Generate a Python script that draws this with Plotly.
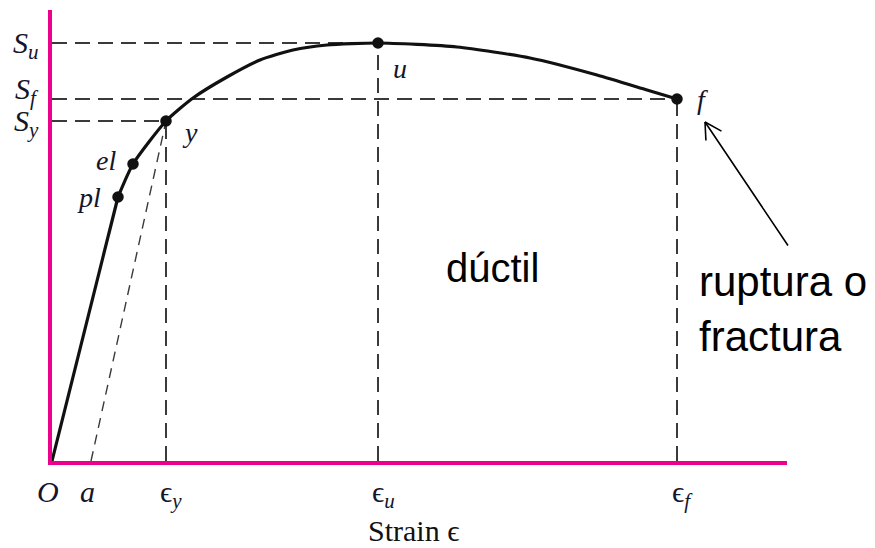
import plotly.graph_objects as go

# Engineering stress-strain diagram of a ductile material (arbitrary units)
curve_strain = [6.6, 8.1, 11.4, 14.1, 17.5, 20.8, 24.1, 27.5, 32.6, 40.5, 47.8, 54.5, 59.5, 62.5]
curve_stress = [26.4, 29.7, 34.0, 36.3, 38.4, 40.1, 41.1, 41.6, 41.8, 41.4, 40.3, 38.6, 37.1, 36.2]

# Elastic segment from the origin up to the proportional limit
elastic_strain = [0.0, 6.6]
elastic_stress = [0.0, 26.4]

# Characteristic points: proportional limit, elastic limit, yield, ultimate, fracture
point_names = ["pl", "el", "y", "u", "f"]
point_strain = [6.6, 8.1, 11.4, 32.6, 62.5]
point_stress = [26.4, 29.7, 34.0, 41.8, 36.2]

# Offset point on the strain axis for the yield construction line
offset_strain = 3.9

# Axis labels
stress_ticks = ["<i>S<sub>u</sub></i>", "<i>S<sub>f</sub></i>", "<i>S<sub>y</sub></i>"]
strain_ticks = ["<i>O</i>", "<i>a</i>", "ϵ<sub><i>y</i></sub>", "ϵ<sub><i>u</i></sub>", "ϵ<sub><i>f</i></sub>"]

X_MAX, Y_MAX = 73.5, 45.1
AXIS_COLOR = "#EC008C"
DASH_COLOR = "#3a3a3a"
LABEL_COLOR = "#15152a"
SERIF = "Liberation Serif, Times New Roman, serif"
SANS = "Liberation Sans, Arial, sans-serif"

pt = dict(zip(point_names, zip(point_strain, point_stress)))

fig = go.Figure()

# Dashed guide lines from the y, u and f points to both axes
guide = dict(color=DASH_COLOR, width=2, dash="15px,8px")
for name in ["y", "u", "f"]:
    sx, sy = pt[name]
    fig.add_trace(go.Scatter(x=[0, sx], y=[sy, sy], mode="lines", line=guide,
                             hoverinfo="skip", showlegend=False))
    fig.add_trace(go.Scatter(x=[sx, sx], y=[0, sy], mode="lines", line=guide,
                             hoverinfo="skip", showlegend=False))

# Offset line parallel to the elastic slope
fig.add_trace(go.Scatter(x=[offset_strain, pt["y"][0]], y=[0, pt["y"][1]], mode="lines",
                         line=dict(color=DASH_COLOR, width=1.4, dash="10px,7px"),
                         hoverinfo="skip", showlegend=False))

# Stress-strain curve
fig.add_trace(go.Scatter(x=elastic_strain, y=elastic_stress, mode="lines",
                         line=dict(color="#111111", width=3.2), showlegend=False))
fig.add_trace(go.Scatter(x=curve_strain, y=curve_stress, mode="lines",
                         line=dict(color="#111111", width=3.2, shape="spline", smoothing=0.6),
                         showlegend=False))
fig.add_trace(go.Scatter(x=point_strain, y=point_stress, mode="markers",
                         marker=dict(color="#111111", size=11.5), showlegend=False))

annotations = []

# Stress labels on the vertical axis
for label, name, shift in zip(stress_ticks, ["u", "f", "y"], [-2, 8, -2]):
    annotations.append(dict(x=0, y=pt[name][1], xref="x", yref="y", text=label, showarrow=False,
                            xanchor="right", yanchor="middle", xshift=-11, yshift=shift,
                            font=dict(family=SERIF, size=30, color=LABEL_COLOR)))

# Strain labels under the horizontal axis
strain_pos = [0.0, offset_strain, pt["y"][0], pt["u"][0], pt["f"][0]]
strain_shift = [-4, -4, 5, 5, 5]
for label, sx, xs in zip(strain_ticks, strain_pos, strain_shift):
    annotations.append(dict(x=sx, y=0, xref="x", yref="y", text=label, showarrow=False,
                            xanchor="center", yanchor="top", xshift=xs, yshift=-12,
                            font=dict(family=SERIF, size=30, color=LABEL_COLOR)))

# Point labels
label_offsets = {"pl": ("right", -15, 0), "el": ("right", -15, 4),
                 "y": ("left", 14, -11), "u": ("left", 13, -25), "f": ("left", 18, 0)}
for name in point_names:
    anchor, dx, dy = label_offsets[name]
    annotations.append(dict(x=pt[name][0], y=pt[name][1], xref="x", yref="y",
                            text=f"<i>{name}</i>", showarrow=False,
                            xanchor=anchor, yanchor="middle", xshift=dx, yshift=dy,
                            font=dict(family=SERIF, size=28, color=LABEL_COLOR)))

# Axis title
annotations.append(dict(x=0.492, y=0, xref="paper", yref="paper", text="Strain ϵ",
                        showarrow=False, xanchor="center", yanchor="top", yshift=-51,
                        font=dict(family=SERIF, size=30, color="#111111")))

# Region and fracture notes
annotations.append(dict(x=44.0, y=19.3, xref="x", yref="y", text="dúctil", showarrow=False,
                        xanchor="center", yanchor="middle",
                        font=dict(family=SANS, size=40, color="#000000")))
annotations.append(dict(x=64.5, y=15.2, xref="x", yref="y", text="ruptura o<br>fractura",
                        showarrow=False, xanchor="left", yanchor="middle", align="left",
                        font=dict(family=SANS, size=42, color="#000000")))

# Arrow pointing at the fracture point (shaft plus an open head)
tip_x, tip_y = 65.3, 33.9
for ax, ay in [(84, 125), (18, 10), (1, 20)]:
    annotations.append(dict(x=tip_x, y=tip_y, xref="x", yref="y", text="", showarrow=True,
                            arrowhead=0, arrowwidth=1.6, arrowcolor="#000000",
                            ax=ax, ay=ay, axref="pixel", ayref="pixel"))

fig.update_layout(
    width=875, height=548,
    margin=dict(l=52, r=88, t=10, b=87),
    paper_bgcolor="white", plot_bgcolor="white",
    xaxis=dict(range=[0, X_MAX], showgrid=False, zeroline=False, showticklabels=False,
               ticks="", showline=True, linecolor=AXIS_COLOR, linewidth=3.5, fixedrange=True),
    yaxis=dict(range=[0, Y_MAX], showgrid=False, zeroline=False, showticklabels=False,
               ticks="", showline=True, linecolor=AXIS_COLOR, linewidth=3.5, fixedrange=True),
    annotations=annotations,
    showlegend=False,
)

fig.write_html("out.html")
